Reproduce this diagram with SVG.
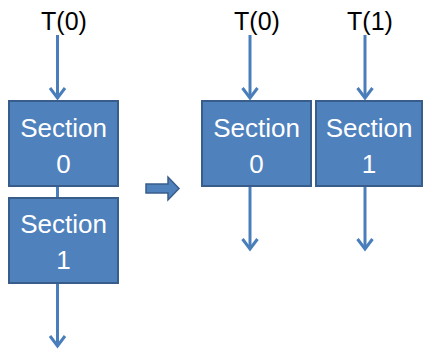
<svg xmlns="http://www.w3.org/2000/svg" width="423" height="349" viewBox="0 0 423 349">
  <style>
    .box { fill: #4F81BD; stroke: #385D8A; stroke-width: 2; }
    .lbl { font-family: "Liberation Sans", Arial, sans-serif; font-size: 26px; fill: #FFFFFF; text-anchor: middle; }
    .top { font-family: "Liberation Sans", Arial, sans-serif; font-size: 25px; fill: #000000; text-anchor: middle; }
    .wire { fill: none; stroke: #4A7EBB; stroke-width: 3; }
    .head { fill: none; stroke: #4A7EBB; stroke-width: 3; stroke-linejoin: miter; }
  </style>

  <!-- thread labels -->
  <text class="top" x="64" y="30">T(0)</text>
  <text class="top" x="257" y="30">T(0)</text>
  <text class="top" x="370" y="30">T(1)</text>

  <!-- connectors -->
  <g id="connectors">
    <!-- sequential version -->
    <line class="wire" x1="57.5" y1="35" x2="57.5" y2="98"/>
    <polyline class="head" points="50,88 57.5,98 65,88"/>
    <line class="wire" x1="57.5" y1="186" x2="57.5" y2="198"/>
    <line class="wire" x1="57.5" y1="284" x2="57.5" y2="346"/>
    <polyline class="head" points="50,336 57.5,346 65,336"/>

    <!-- parallel version -->
    <line class="wire" x1="250" y1="35" x2="250" y2="98"/>
    <polyline class="head" points="242.5,88 250,98 257.5,88"/>
    <line class="wire" x1="250" y1="186" x2="250" y2="249"/>
    <polyline class="head" points="242.5,239 250,249 257.5,239"/>

    <line class="wire" x1="365" y1="35" x2="365" y2="98"/>
    <polyline class="head" points="357.5,88 365,98 372.5,88"/>
    <line class="wire" x1="365" y1="186" x2="365" y2="249"/>
    <polyline class="head" points="357.5,239 365,249 372.5,239"/>
  </g>

  <!-- sequential sections -->
  <g id="seq-section0">
    <rect class="box" x="9" y="101" width="109" height="85"/>
    <text class="lbl" x="63.5" y="137">Section</text>
    <text class="lbl" x="63.5" y="173">0</text>
  </g>
  <g id="seq-section1">
    <rect class="box" x="9" y="198" width="109" height="85"/>
    <text class="lbl" x="63.5" y="233">Section</text>
    <text class="lbl" x="63.5" y="269">1</text>
  </g>

  <!-- transformation arrow -->
  <g id="transform-arrow">
    <polygon points="146,184 168,184 168,177 179,188.5 168,200 168,193 146,193" fill="#4F81BD" stroke="#385D8A" stroke-width="1.5"/>
  </g>

  <!-- parallel sections -->
  <g id="par-section0">
    <rect class="box" x="202" y="101" width="109" height="85"/>
    <text class="lbl" x="256.5" y="137">Section</text>
    <text class="lbl" x="256.5" y="173">0</text>
  </g>
  <g id="par-section1">
    <rect class="box" x="316" y="101" width="106" height="85"/>
    <text class="lbl" x="369" y="137">Section</text>
    <text class="lbl" x="369" y="173">1</text>
  </g>
</svg>
